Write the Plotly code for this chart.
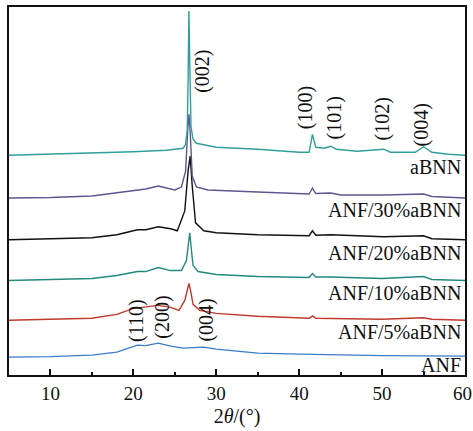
import plotly.graph_objects as go

# ---- data (2θ in degrees, intensity in offset arbitrary units) ----
anf_x = [5, 10, 15, 18, 20.5, 21.5, 23, 24.5, 26, 28.5, 30, 35, 40, 50, 60]
anf_y = [18, 18.5, 20, 23, 30, 29.5, 32, 29, 27, 28, 26, 22, 21, 19.5, 19]

anf5_x = [5, 15, 18, 20, 21, 23, 24.5, 25.5, 26.2, 26.55, 26.7, 26.9, 27.2, 28, 30, 35, 41.2, 41.6, 42, 50, 55, 56, 60]
anf5_y = [55, 57, 61, 67, 68, 70, 68, 65, 75, 87, 92, 85, 71, 65, 62, 59, 57, 59.5, 57, 56, 57.5, 56, 55]

anf10_x = [5, 15, 18, 20.5, 21.5, 23, 24.5, 25.8, 26.4, 26.65, 26.8, 26.95, 27.2, 27.8, 30, 35, 41.2, 41.6, 42, 43.8, 50, 55, 56, 60]
anf10_y = [95, 97, 100, 104, 104, 108, 105, 105, 115, 135, 143, 130, 110, 104, 101, 99, 98, 102, 98.5, 98.5, 97, 99, 96, 95]

anf20_x = [5, 15, 18, 20.5, 21.5, 23, 24.5, 25.3, 26.2, 26.6, 26.85, 27.1, 27.5, 28.5, 30, 35, 41.2, 41.6, 42, 43.8, 50.2, 55, 56, 60]
anf20_y = [136, 138, 141, 146, 146, 149, 147, 145, 165, 205, 220, 190, 153, 145, 143, 141, 140, 145, 140.5, 141, 139, 140, 137, 136]

anf30_x = [5, 10, 15, 18, 20.5, 21.5, 23, 24, 25, 25.8, 26.3, 26.55, 26.7, 26.85, 27.1, 27.6, 29, 35, 41.2, 41.6, 42, 43.8, 45, 50.2, 55, 56, 60]
anf30_y = [178, 178.5, 180, 183, 186, 187, 190, 188, 186, 189, 205, 245, 262, 245, 200, 189, 186, 184, 182, 188, 182.5, 183, 181, 181, 182, 179.5, 178]

abnn_x = [5, 10, 15, 20, 24, 25.5, 26.0, 26.3, 26.5, 26.6, 26.7, 26.8, 26.95, 27.2, 27.6, 30, 35, 40, 41.2, 41.6, 42.0, 43, 43.8, 44.5, 47, 50.2, 51, 54, 55, 56, 58, 60]
abnn_y = [221, 222, 223, 224.5, 226, 227, 228, 232, 247, 295, 366, 315, 250, 237, 233, 229, 227, 224, 224, 242, 229, 228, 230, 227, 225, 227, 224, 224, 229.5, 224, 222, 221]

series_names = ["ANF", "ANF/5%aBNN", "ANF/10%aBNN", "ANF/20%aBNN", "ANF/30%aBNN", "aBNN"]
series_x = [anf_x, anf5_x, anf10_x, anf20_x, anf30_x, abnn_x]
series_y = [anf_y, anf5_y, anf10_y, anf20_y, anf30_y, abnn_y]
series_colors = ["#3a7cc8", "#c0392b", "#23897f", "#111111", "#5b5890", "#2f9f9c"]
label_y = [10, 43, 82, 123, 166, 209]

peak_labels = ["(002)", "(100)", "(101)", "(102)", "(004)", "(110)", "(200)", "(004)"]
peak_x = [28.3, 40.8, 44.2, 50.0, 54.7, 20.4, 23.5, 28.8]
peak_y = [305, 269, 258, 257, 251, 55, 58, 55]

xticks = [10, 20, 30, 40, 50, 60]

FONT = "Liberation Serif, Times New Roman, serif"

fig = go.Figure()
for name, xs, ys, c in zip(series_names, series_x, series_y, series_colors):
    fig.add_trace(go.Scatter(x=xs, y=ys, mode="lines", name=name,
                             line=dict(color=c, width=1.4), showlegend=False))

for name, ly in zip(series_names, label_y):
    fig.add_annotation(x=60, y=ly, xref="x", yref="y", text=name, showarrow=False,
                       xanchor="right", yanchor="middle", xshift=-2,
                       font=dict(family=FONT, size=20, color="#111"))

for t, px, py in zip(peak_labels, peak_x, peak_y):
    fig.add_annotation(x=px, y=py, xref="x", yref="y", text=t, showarrow=False,
                       textangle=-90, xanchor="center", yanchor="middle",
                       font=dict(family=FONT, size=20, color="#111"))

# last tick label sits at the right edge
fig.add_annotation(x=xticks[-1], y=0, xref="x", yref="paper", text=str(xticks[-1]),
                   showarrow=False, xanchor="center", yanchor="top", yshift=-6, xshift=-3,
                   font=dict(family=FONT, size=19, color="#111"))

fig.update_layout(
    width=473, height=431,
    margin=dict(l=9, r=8, t=5, b=56),
    paper_bgcolor="white", plot_bgcolor="white",
    font=dict(family=FONT, size=19, color="#111"),
    xaxis=dict(range=[5, 60], tickvals=xticks, ticks="inside", ticklen=6, tickwidth=1.5,
               tickcolor="#111", showline=True, linecolor="#111", linewidth=1.5, mirror=True,
               showgrid=False, zeroline=False,
               minor=dict(dtick=5, tick0=5, ticks="inside", ticklen=3, tickwidth=1.5, tickcolor="#111"),
               tickfont=dict(family=FONT, size=19),
               title=dict(text="2<i>θ</i>/(°)", font=dict(family=FONT, size=20), standoff=6)),
    yaxis=dict(range=[0, 370], showticklabels=False, ticks="", showline=True, linecolor="#111",
               linewidth=1.5, mirror=True, showgrid=False, zeroline=False),
)

fig.write_html("out.html", config={"displayModeBar": False},
               post_script="document.body.style.margin='0';document.body.style.padding='0';document.body.style.overflow='hidden';")
